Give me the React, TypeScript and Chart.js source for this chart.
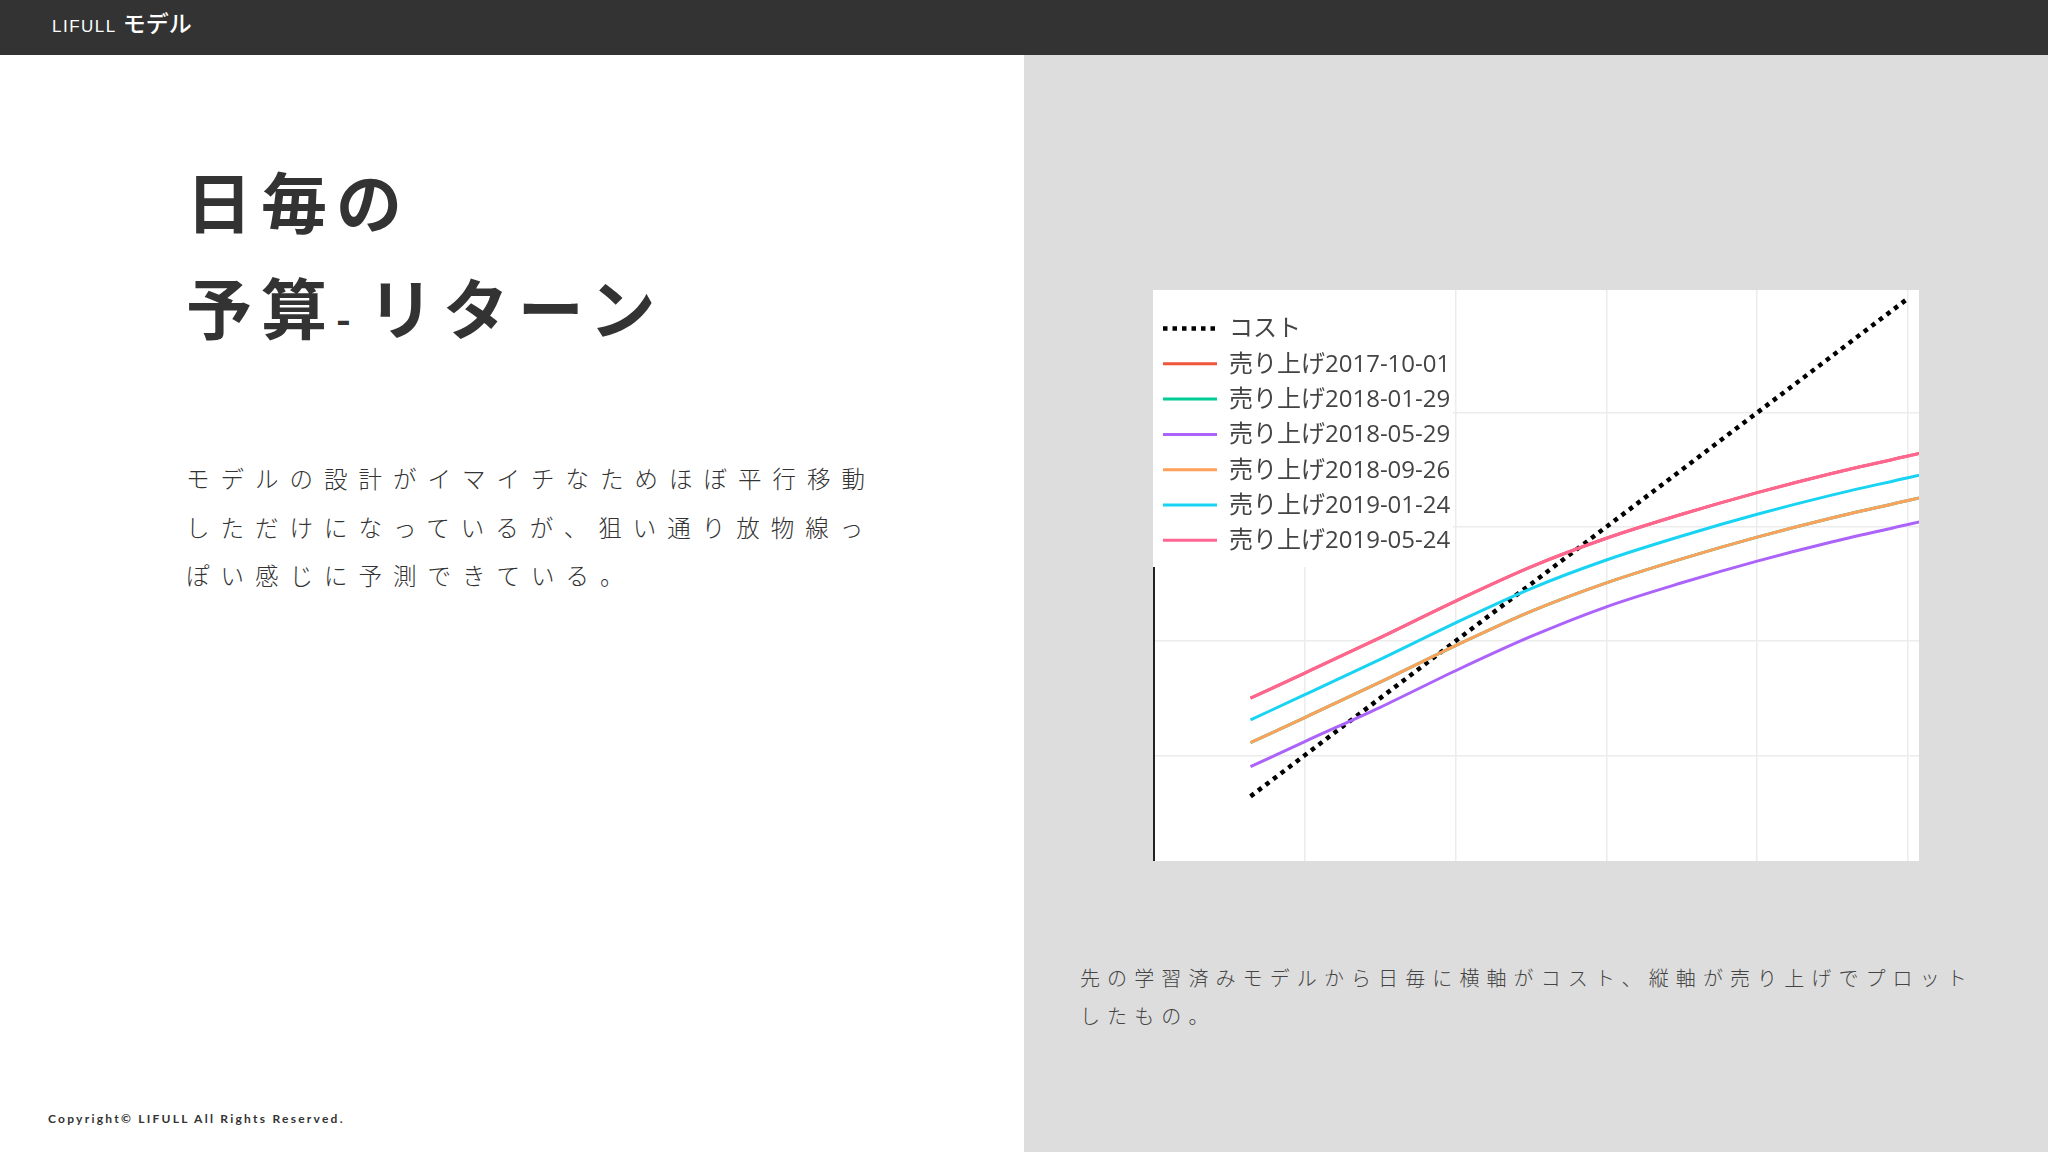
import React, { useEffect, useRef } from 'react';
import Chart from 'chart.js/auto';

// cost on the x axis (same units as sales); the cost line is cost vs cost
const costPoints = [0.64, 1.0, 1.5, 2.0, 2.5, 3.0, 3.5, 4.0, 4.5, 5.0];
const salesX = [0.64, 1.0, 1.5, 2.0, 2.5, 3.0, 3.5, 4.0, 4.5, 5.0, 5.2];

const sales20171001 = [1.5, 1.72, 2.03, 2.35, 2.65, 2.9, 3.11, 3.3, 3.47, 3.62, 3.68];
const sales20180129 = [1.11, 1.33, 1.64, 1.96, 2.26, 2.51, 2.72, 2.91, 3.08, 3.23, 3.29];
const sales20180529 = [0.9, 1.12, 1.42, 1.74, 2.04, 2.3, 2.51, 2.7, 2.87, 3.02, 3.08];
const sales20180926 = [1.11, 1.33, 1.64, 1.96, 2.26, 2.51, 2.72, 2.91, 3.08, 3.23, 3.29];
const sales20190124 = [1.31, 1.53, 1.84, 2.16, 2.46, 2.71, 2.92, 3.11, 3.28, 3.43, 3.49];
const sales20190524 = [1.5, 1.72, 2.03, 2.35, 2.65, 2.9, 3.11, 3.3, 3.47, 3.62, 3.68];

const salesLabels = [
  '売り上げ2017-10-01',
  '売り上げ2018-01-29',
  '売り上げ2018-05-29',
  '売り上げ2018-09-26',
  '売り上げ2019-01-24',
  '売り上げ2019-05-24',
];
const salesSeries = [sales20171001, sales20180129, sales20180529, sales20180926, sales20190124, sales20190524];
const salesColors = ['#EF553B', '#00CC96', '#AB63FA', '#FFA15A', '#19D3F3', '#FF6692'];

const gridX = [1, 2, 3, 4, 5];
const gridY = [1, 2, 3, 4];

const CJK = '"Noto Sans CJK JP", "Noto Sans", sans-serif';

// plotly-style legend box drawn over the top-left of the plot
const boxLegend = {
  id: 'boxLegend',
  afterDatasetsDraw(chart: any) {
    const { ctx } = chart;
    ctx.save();
    ctx.fillStyle = '#ffffff';
    ctx.fillRect(0, 0, 300, 277);
    chart.data.datasets.forEach((ds: any, i: number) => {
      const y = 38.5 + i * 35.3;
      ctx.beginPath();
      ctx.strokeStyle = ds.borderColor;
      ctx.lineWidth = ds.borderWidth;
      ctx.lineCap = 'butt';
      ctx.setLineDash(ds.borderDash || []);
      ctx.moveTo(10, y);
      ctx.lineTo(64, y);
      ctx.stroke();
      ctx.setLineDash([]);
      ctx.fillStyle = '#444444';
      ctx.font = '24px "Open Sans", "Noto Sans CJK JP", sans-serif';
      ctx.textBaseline = 'middle';
      ctx.fillText(ds.label, 76, y + 1);
    });
    ctx.restore();
  },
};

const ReturnChart: React.FC = () => {
  const canvasRef = useRef<HTMLCanvasElement | null>(null);

  useEffect(() => {
    if (!canvasRef.current) return;
    const datasets: any[] = [
      {
        label: 'コスト',
        data: costPoints.map((c) => ({ x: c, y: c })),
        borderColor: '#000000',
        borderWidth: 4.5,
        borderDash: [4.5, 5],
      },
      ...salesSeries.map((values, i) => ({
        label: salesLabels[i],
        data: values.map((v, j) => ({ x: salesX[j], y: v })),
        borderColor: salesColors[i],
        borderWidth: 3,
        cubicInterpolationMode: 'monotone',
      })),
    ];
    // later traces on top, like plotly
    datasets.forEach((ds, i) => {
      ds.order = datasets.length - i;
      ds.pointRadius = 0;
      ds.fill = false;
    });

    const chart = new Chart(canvasRef.current, {
      type: 'line',
      data: { datasets },
      options: {
        animation: false,
        responsive: true,
        maintainAspectRatio: false,
        layout: { padding: { left: 1, top: 0, right: 0, bottom: 0 } },
        plugins: { legend: { display: false }, tooltip: { enabled: false } },
        scales: {
          x: {
            type: 'linear',
            min: 0,
            max: 5.073,
            ticks: { display: false },
            grid: { color: '#ececec', lineWidth: 1.5, drawTicks: false },
            border: { display: false },
            afterBuildTicks: (axis: any) => {
              axis.ticks = gridX.map((v) => ({ value: v }));
            },
          },
          y: {
            type: 'linear',
            min: 0.074,
            max: 5.074,
            ticks: { display: false },
            grid: { color: '#ececec', lineWidth: 1.5, drawTicks: false },
            border: { display: true, color: '#222222', width: 2 },
            afterBuildTicks: (axis: any) => {
              axis.ticks = gridY.map((v) => ({ value: v }));
            },
          },
        },
      },
      plugins: [boxLegend],
    });

    return () => {
      chart.destroy();
    };
  }, []);

  return <canvas ref={canvasRef} />;
};

const App: React.FC = () => {
  return (
    <div
      style={{
        position: 'fixed',
        left: 0,
        top: 0,
        width: 2048,
        height: 1152,
        background: '#ffffff',
        overflow: 'hidden',
        fontFamily: CJK,
        color: '#333333',
      }}
    >
      {/* header bar */}
      <div style={{ position: 'absolute', left: 0, top: 0, width: 2048, height: 55, background: '#333333' }}>
        <div style={{ position: 'absolute', left: 52, top: 8, lineHeight: '28px', color: '#ffffff', whiteSpace: 'nowrap' }}>
          <span style={{ fontFamily: '"Liberation Sans Narrow", "Liberation Sans", sans-serif', fontSize: 17, letterSpacing: 1.5 }}>
            LIFULL
          </span>
          <span style={{ fontSize: 23, fontWeight: 500, marginLeft: 6 }}>モデル</span>
        </div>
      </div>

      {/* right panel */}
      <div style={{ position: 'absolute', left: 1024, top: 55, width: 1024, height: 1097, background: '#dddddd' }} />

      {/* title */}
      <div
        style={{
          position: 'absolute',
          left: 186,
          top: 146,
          fontSize: 66,
          fontWeight: 700,
          lineHeight: '106px',
          letterSpacing: 9,
          whiteSpace: 'nowrap',
        }}
      >
        日毎の
        <br />
        予算<span style={{ fontSize: 40, letterSpacing: 17 }}>-</span>リターン
      </div>

      {/* body text */}
      <div
        style={{
          position: 'absolute',
          left: 186,
          top: 454,
          fontSize: 23.5,
          fontWeight: 300,
          lineHeight: '48.5px',
          letterSpacing: 11,
          whiteSpace: 'nowrap',
        }}
      >
        モデルの設計がイマイチなためほぼ平行移動
        <br />
        しただけになっているが、狙い通り放物線っ
        <br />
        ぽい感じに予測できている。
      </div>

      {/* chart */}
      <div style={{ position: 'absolute', left: 1153, top: 290, width: 766, height: 571, background: '#ffffff' }}>
        <ReturnChart />
      </div>

      {/* caption */}
      <div
        style={{
          position: 'absolute',
          left: 1080,
          top: 959,
          fontSize: 20,
          fontWeight: 300,
          lineHeight: '38px',
          letterSpacing: 7.1,
          color: '#444444',
          whiteSpace: 'nowrap',
        }}
      >
        先の学習済みモデルから日毎に横軸がコスト、縦軸が売り上げでプロット
        <br />
        したもの。
      </div>

      {/* footer */}
      <div
        style={{
          position: 'absolute',
          left: 48,
          top: 1110,
          fontFamily: 'Lato, "Open Sans", sans-serif',
          fontSize: 12,
          fontWeight: 700,
          lineHeight: '18px',
          letterSpacing: 2.25,
          color: '#333333',
          whiteSpace: 'nowrap',
        }}
      >
        Copyright© LIFULL All Rights Reserved.
      </div>
    </div>
  );
};

export default App;
